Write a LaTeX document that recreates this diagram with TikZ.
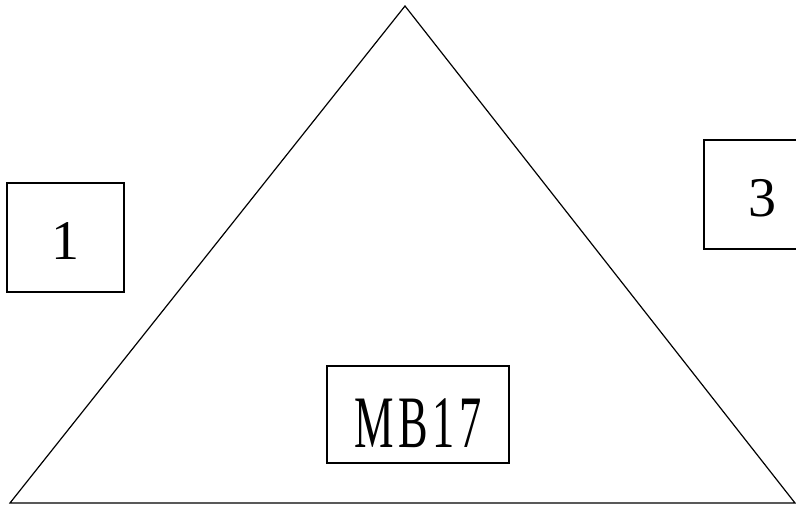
\documentclass[tikz,border=0pt]{standalone}
\usepackage{fontspec}
\setmainfont{Liberation Serif}
\newfontfamily\condfont[FakeStretch=0.6, LetterSpace=6]{Liberation Serif}
\usepackage{tikz}
\usetikzlibrary{positioning}
\tikzset{
  outline/.style={line width=1.2pt, draw=black},
  numbox/.style={outline, minimum width=117pt, minimum height=109pt, inner sep=0pt, text height=44pt, font=\fontsize{56}{60}\selectfont},
  labelbox/.style={outline, minimum width=182pt, minimum height=97pt, inner sep=0pt, text height=66pt, font=\condfont\fontsize{74}{80}\selectfont},
}
\begin{document}
\begin{tikzpicture}[x=1pt, y=-1pt]
  \useasboundingbox (0,0) rectangle (796,508);
  % triangle corners
  \coordinate (apex) at (405,6);
  \coordinate (left) at (10,503);
  \coordinate (right) at (795,503);
  \draw[outline, line join=miter] (left) -- (apex) -- (right) -- cycle;
  % boxes
  \node[numbox] (one) at (65.5,237.5) {1};
  \node[numbox] (three) at (762.5,194.5) {3};
  \node[labelbox] (mb) at (418,414.5) {MB17};
\end{tikzpicture}
\end{document}
